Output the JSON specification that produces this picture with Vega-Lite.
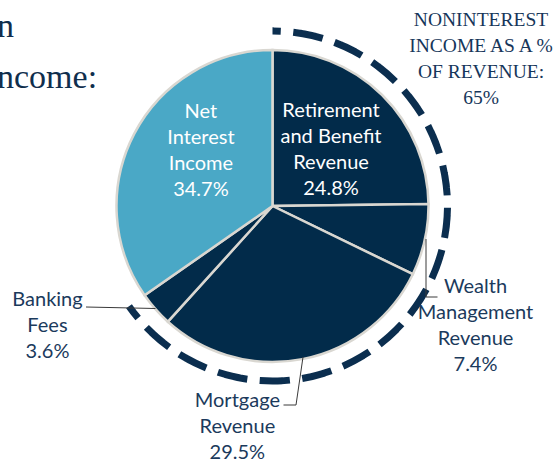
{
  "$schema": "https://vega.github.io/schema/vega-lite/v6.json",
  "width": 545,
  "height": 412,
  "padding": {"left": 0, "top": 0, "right": 12, "bottom": 50},
  "autosize": {"type": "none"},
  "background": "white",
  "config": {"view": {"stroke": null}},
  "datasets": {
    "slices": [
      {"rank": 1, "category": "Retirement and Benefit Revenue", "type": "Noninterest income", "value": 24.8, "label": "Retirement\nand Benefit\nRevenue\n24.8%"},
      {"rank": 2, "category": "Wealth Management Revenue", "type": "Noninterest income", "value": 7.4, "label": "Wealth\nManagement\nRevenue\n7.4%"},
      {"rank": 3, "category": "Mortgage Revenue", "type": "Noninterest income", "value": 29.5, "label": "Mortgage\nRevenue\n29.5%"},
      {"rank": 4, "category": "Banking Fees", "type": "Noninterest income", "value": 3.6, "label": "Banking\nFees\n3.6%"},
      {"rank": 5, "category": "Net Interest Income", "type": "Net interest income", "value": 34.7, "label": "Net\nInterest\nIncome\n34.7%"}
    ],
    "noninterest": [
      {"group": "Noninterest income", "start": 0, "end": 65.3, "note": "NONINTEREST\nINCOME AS A %\nOF REVENUE:\n65%", "heading": "n\nncome:"}
    ]
  },
  "layer": [
    {
      "data": {"name": "noninterest"},
      "mark": {"type": "arc", "radius": 175, "radius2": 175, "filled": false, "color": "#0B2E4F", "strokeWidth": 7, "strokeDash": [23, 19.6], "strokeDashOffset": 14.6, "strokeCap": "butt", "strokeJoin": "bevel"},
      "encoding": {
        "theta": {"field": "start", "type": "quantitative", "scale": {"domain": [0, 100]}},
        "theta2": {"field": "end"}
      }
    },
    {
      "data": {"name": "slices"},
      "mark": {"type": "arc", "radius": 156, "stroke": "#D9D7D1", "strokeWidth": 2.5},
      "encoding": {
        "theta": {"field": "value", "type": "quantitative", "stack": true},
        "order": {"field": "rank", "type": "quantitative"},
        "color": {"field": "type", "type": "nominal", "scale": {"domain": ["Noninterest income", "Net interest income"], "range": ["#022B4A", "#4AA8C6"]}, "legend": null}
      }
    },
    {
      "data": {"name": "noninterest"},
      "mark": {"type": "point", "shape": "M153.5,33L153.5,91L165,91M30.5,151L23.5,199L11,199M-186.5,101L-117,102.5", "size": 4, "filled": false, "stroke": "#3A3A3A", "strokeWidth": 1, "opacity": 1},
      "encoding": {}
    },
    {
      "data": {"name": "slices"},
      "mark": {"type": "text", "radius": 81, "dx": 1.6, "dy": -37.4, "align": "center", "baseline": "middle", "font": "Lato", "fontSize": 20, "lineHeight": 26, "lineBreak": "\n", "color": "#FFFFFF"},
      "encoding": {
        "theta": {"field": "value", "type": "quantitative", "stack": true},
        "order": {"field": "rank", "type": "quantitative"},
        "text": {"condition": {"test": "datum.category === 'Retirement and Benefit Revenue'", "field": "label"}, "value": ""}
      }
    },
    {
      "data": {"name": "slices"},
      "mark": {"type": "text", "radius": 92, "dx": 10, "dy": -51.5, "align": "center", "baseline": "middle", "font": "Lato", "fontSize": 20, "lineHeight": 26, "lineBreak": "\n", "color": "#FFFFFF"},
      "encoding": {
        "theta": {"field": "value", "type": "quantitative", "stack": true},
        "order": {"field": "rank", "type": "quantitative"},
        "text": {"condition": {"test": "datum.category === 'Net Interest Income'", "field": "label"}, "value": ""}
      }
    },
    {
      "data": {"name": "slices"},
      "mark": {"type": "text", "radius": 220, "dx": -11.7, "dy": 33.5, "align": "center", "baseline": "middle", "font": "Lato", "fontSize": 20, "lineHeight": 26, "lineBreak": "\n", "color": "#1B3A5C"},
      "encoding": {
        "theta": {"field": "value", "type": "quantitative", "stack": true},
        "order": {"field": "rank", "type": "quantitative"},
        "text": {"condition": {"test": "datum.category === 'Wealth Management Revenue'", "field": "label"}, "value": ""}
      }
    },
    {
      "data": {"name": "slices"},
      "mark": {"type": "text", "radius": 225, "dx": -78, "dy": -25.5, "align": "center", "baseline": "middle", "font": "Lato", "fontSize": 20, "lineHeight": 26, "lineBreak": "\n", "color": "#1B3A5C"},
      "encoding": {
        "theta": {"field": "value", "type": "quantitative", "stack": true},
        "order": {"field": "rank", "type": "quantitative"},
        "text": {"condition": {"test": "datum.category === 'Mortgage Revenue'", "field": "label"}, "value": ""}
      }
    },
    {
      "data": {"name": "slices"},
      "mark": {"type": "text", "radius": 240, "dx": -45, "dy": -64.7, "align": "center", "baseline": "middle", "font": "Lato", "fontSize": 20, "lineHeight": 26, "lineBreak": "\n", "color": "#1B3A5C"},
      "encoding": {
        "theta": {"field": "value", "type": "quantitative", "stack": true},
        "order": {"field": "rank", "type": "quantitative"},
        "text": {"condition": {"test": "datum.category === 'Banking Fees'", "field": "label"}, "value": ""}
      }
    },
    {
      "data": {"name": "noninterest"},
      "mark": {"type": "text", "dx": 208.5, "dy": -186, "align": "center", "baseline": "middle", "font": "Liberation Serif", "fontSize": 19.5, "lineHeight": 26, "lineBreak": "\n", "color": "#16365A"},
      "encoding": {
        "text": {"field": "note"}
      }
    },
    {
      "data": {"name": "noninterest"},
      "mark": {"type": "text", "dx": -275.5, "dy": -169, "align": "left", "baseline": "alphabetic", "font": "Liberation Serif", "fontSize": 34, "lineHeight": 51, "lineBreak": "\n", "color": "#0F2E4D"},
      "encoding": {
        "text": {"field": "heading"}
      }
    }
  ]
}
